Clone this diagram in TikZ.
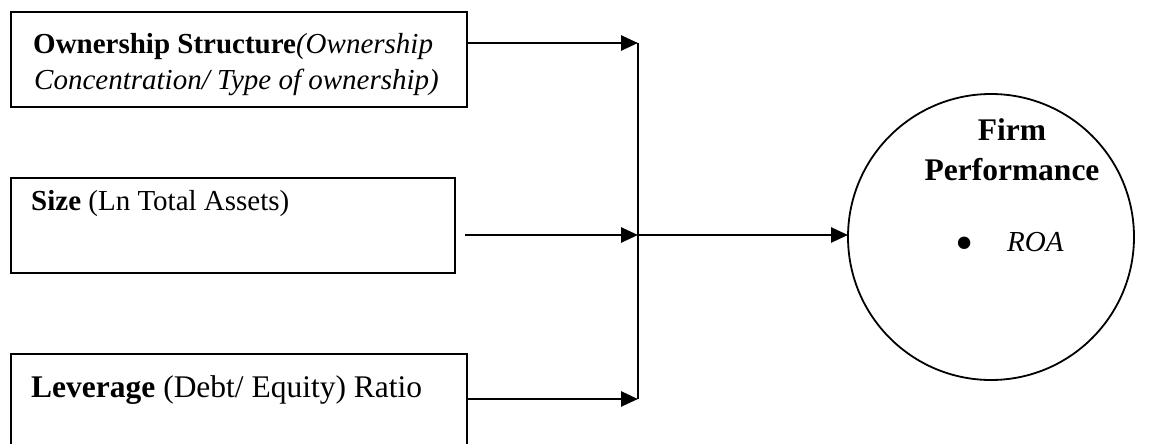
\documentclass[tikz,border=0pt]{standalone}
\usepackage{fontspec}
\setmainfont{Liberation Serif}
\usetikzlibrary{arrows.meta}
\begin{document}
\begin{tikzpicture}[x=1pt,y=-1pt,
  boxnode/.style={draw, line width=2pt, inner sep=0pt, outer sep=0pt, anchor=north west},
  txt/.style={anchor=base west, inner sep=0pt, font=\fontsize{29}{35}\selectfont},
  bigtxt/.style={anchor=base west, inner sep=0pt, font=\fontsize{31.5}{38}\selectfont},
  ctxt/.style={anchor=base, inner sep=0pt, font=\fontsize{31.5}{38}\selectfont\bfseries},
  conn/.style={line width=2.6pt, -{Triangle[length=17pt,width=15pt]}},
  vline/.style={line width=2.6pt},
  circnode/.style={draw, circle, line width=1.8pt, minimum size=286pt, inner sep=0pt, outer sep=0pt}]
\useasboundingbox (0,0) rectangle (1175,444);
\clip (0,0) rectangle (1175,444);
% boxes
\node[boxnode, minimum width=456pt, minimum height=95pt] (b1) at (11,12) {};
\node[boxnode, minimum width=444pt, minimum height=95pt] (b2) at (11,178) {};
\node[boxnode, minimum width=456pt, minimum height=110pt] (b3) at (11,354) {};
% box texts
\node[txt] (t1a) at (33,53) {\textbf{Ownership Structure}\textit{(Ownership}};
\node[txt] (t1b) at (34,89) {\textit{Concentration/ Type of ownership)}};
\node[txt] (t2) at (31,210) {\textbf{Size} (Ln Total Assets)};
\node[bigtxt] (t3) at (31,397) {\textbf{Leverage} (Debt/ Equity) Ratio};
% circle
\node[circnode] (perf) at (991,237) {};
\node[ctxt] (firm) at (1012,140) {Firm};
\node[ctxt] (perfword) at (1012,180) {Performance};
\node[anchor=base, inner sep=0pt, font=\fontsize{52}{52}\selectfont] (bul) at (965,260) {•};
\node[txt] (roa) at (1007,251) {\textit{ROA}};
% connectors
\coordinate (j1) at (638,43);
\coordinate (j2) at (638,235);
\coordinate (j3) at (638,399);
\path (b2.east |- j2) ++(10,0) coordinate (s2);
\draw[vline] (j1) -- (j3);
\draw[conn] (b1.east |- j1) -- (j1);
\draw[conn] (s2) -- (j2);
\draw[conn] (b3.east |- j3) -- (j3);
\draw[conn] (j2) -- (j2 -| perf.west);
\end{tikzpicture}
\end{document}
